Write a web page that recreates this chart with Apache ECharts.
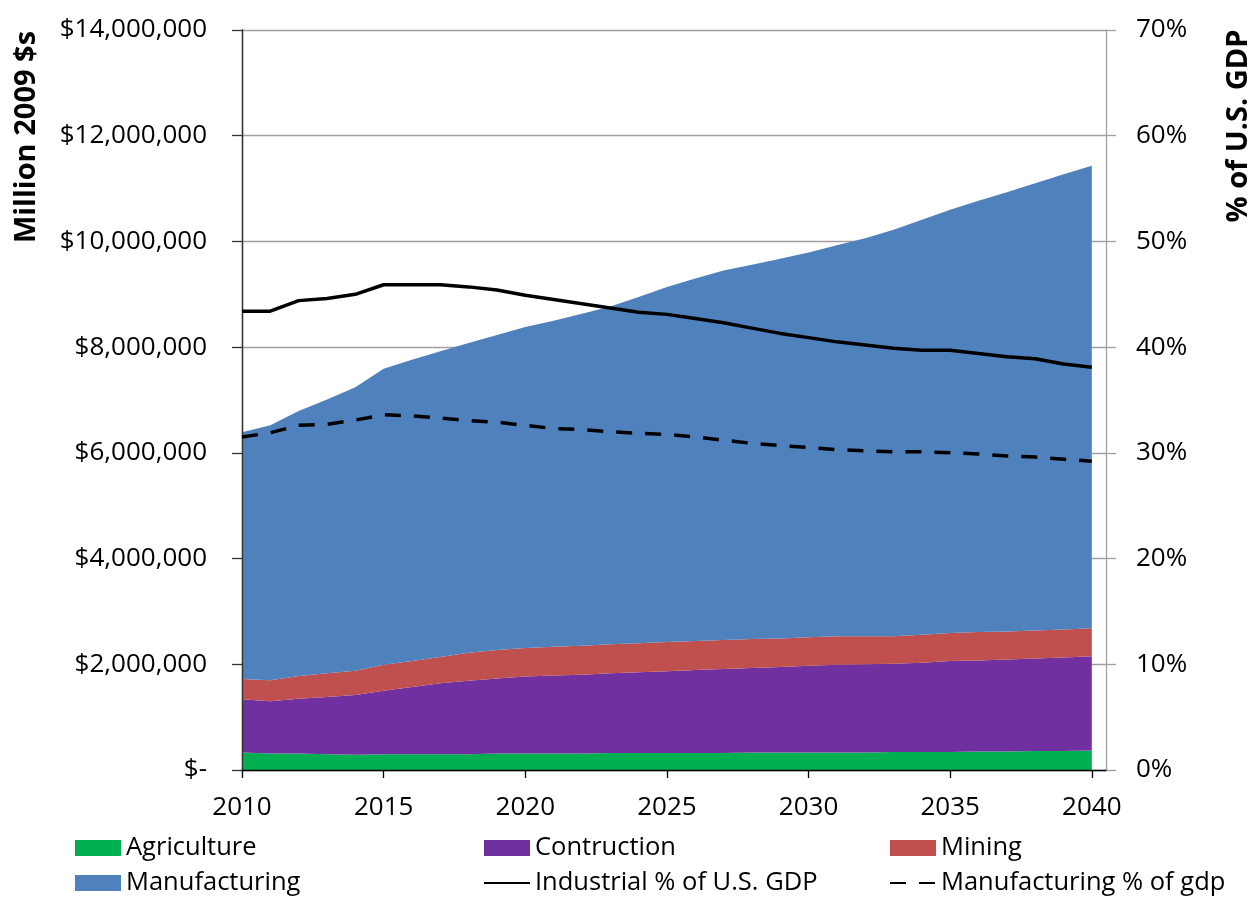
<!DOCTYPE html>
<html>
<head>
<meta charset="utf-8">
<script src="https://cdn.jsdelivr.net/npm/echarts@6/dist/echarts.min.js"></script>
<style>
  html, body { margin: 0; padding: 0; background: #fff; }
  #chart { width: 1255px; height: 898px; }
</style>
</head>
<body>
<div id="chart"></div>
<script>
// Industrial output by sector (million 2009 $) and shares of U.S. GDP, 2010-2040
const years = [2010, 2011, 2012, 2013, 2014, 2015, 2016, 2017, 2018, 2019, 2020,
               2021, 2022, 2023, 2024, 2025, 2026, 2027, 2028, 2029, 2030,
               2031, 2032, 2033, 2034, 2035, 2036, 2037, 2038, 2039, 2040];

const agriculture = [330000, 310000, 310000, 300000, 290000, 300000, 300000, 300000, 300000, 310000, 310000,
                     310000, 310000, 320000, 320000, 320000, 320000, 320000, 330000, 330000, 330000,
                     330000, 330000, 340000, 340000, 340000, 350000, 350000, 360000, 360000, 370000];

const construction = [1010000, 990000, 1040000, 1080000, 1130000, 1200000, 1270000, 1340000, 1390000, 1420000, 1460000,
                      1480000, 1490000, 1510000, 1530000, 1550000, 1570000, 1590000, 1600000, 1620000, 1640000,
                      1660000, 1670000, 1670000, 1690000, 1720000, 1720000, 1740000, 1750000, 1770000, 1780000];

const mining = [380000, 400000, 430000, 450000, 460000, 490000, 490000, 500000, 530000, 540000, 540000,
                540000, 550000, 550000, 550000, 550000, 550000, 550000, 550000, 540000, 540000,
                540000, 530000, 520000, 530000, 530000, 540000, 530000, 530000, 530000, 530000];

const manufacturing = [4670000, 4820000, 5010000, 5180000, 5360000, 5600000, 5700000, 5780000, 5860000, 5960000, 6070000,
                       6170000, 6280000, 6390000, 6550000, 6720000, 6860000, 6990000, 7080000, 7180000, 7280000,
                       7400000, 7530000, 7690000, 7850000, 8010000, 8160000, 8310000, 8460000, 8610000, 8750000];

// Shares of U.S. GDP, percent
const industrialPct = [43.4, 43.4, 44.4, 44.6, 45.0, 45.9, 45.9, 45.9, 45.7, 45.4, 44.9,
                       44.5, 44.1, 43.7, 43.3, 43.1, 42.7, 42.3, 41.8, 41.3, 40.9,
                       40.5, 40.2, 39.9, 39.7, 39.7, 39.4, 39.1, 38.9, 38.4, 38.1];

const manufacturingPct = [31.5, 31.9, 32.6, 32.7, 33.1, 33.6, 33.5, 33.3, 33.05, 32.9, 32.6,
                          32.3, 32.2, 32.0, 31.85, 31.75, 31.5, 31.2, 30.9, 30.7, 30.5,
                          30.3, 30.2, 30.1, 30.1, 30.0, 29.9, 29.7, 29.6, 29.4, 29.2];

const yearTicks = [2010, 2015, 2020, 2025, 2030, 2035, 2040];

const FONT = '"Open Sans", "Noto Sans", sans-serif';

// Series are placed on a time axis (1 January of each year) so the stack
// accumulates the sector values; a value axis in years carries the labels.
const jan1 = y => Date.UTC(y, 0, 1);
const X_MIN_YEAR = 2010;
const X_MAX_YEAR = 2040.5;
const timeMin = jan1(X_MIN_YEAR);
const timeMax = jan1(2040) + 0.5 * (jan1(2041) - jan1(2040));

const pairs = vals => years.map((y, i) => [jan1(y), vals[i]]);

function dollars(v) {
  if (v === 0) return '$-';
  return '$' + v.toLocaleString('en-US');
}

const areaSeries = (name, vals, color) => ({
  name: name,
  type: 'line',
  stack: 'sectors',
  xAxisIndex: 0,
  yAxisIndex: 0,
  data: pairs(vals),
  symbol: 'none',
  showSymbol: false,
  lineStyle: { width: 0, color: color },
  itemStyle: { color: color },
  areaStyle: { color: color, opacity: 1 },
  emphasis: { disabled: true },
  z: 2
});

const AXIS_FONT_SIZE = 26;
const legendText = { fontFamily: FONT, fontSize: 25.5, color: '#000' };
const lineLegendItem = name => ({ name: name, itemStyle: { opacity: 0 } });

const chart = echarts.init(document.getElementById('chart'), null, { renderer: 'canvas' });

chart.setOption({
  animation: false,
  backgroundColor: '#ffffff',
  textStyle: { fontFamily: FONT },
  grid: { left: 242, right: 149, top: 30, bottom: 128, containLabel: false },
  xAxis: [
    {
      type: 'time',
      position: 'top',
      min: timeMin,
      max: timeMax,
      show: false
    },
    {
      type: 'value',
      position: 'bottom',
      min: X_MIN_YEAR,
      max: X_MAX_YEAR,
      interval: 5,
      z: 4,
      axisLine: { show: true, onZero: false, lineStyle: { color: '#000', width: 1.3 } },
      axisTick: { show: true, inside: false, length: 8, lineStyle: { color: '#000', width: 1.3 } },
      splitLine: { show: false },
      axisLabel: {
        margin: 25,
        fontFamily: FONT,
        fontSize: AXIS_FONT_SIZE,
        color: '#000',
        showMaxLabel: false,
        formatter: v => (yearTicks.indexOf(v) >= 0 ? String(v) : '')
      }
    }
  ],
  yAxis: [
    {
      type: 'value',
      min: 0,
      max: 14000000,
      interval: 2000000,
      axisLine: { show: true, onZero: false, lineStyle: { color: '#333', width: 1.3 } },
      axisTick: { show: true, inside: false, length: 10, lineStyle: { color: '#333', width: 1.3 } },
      splitLine: { show: true, lineStyle: { color: '#a0a0a0', width: 1.3 } },
      axisLabel: {
        margin: 35,
        fontFamily: FONT,
        fontSize: AXIS_FONT_SIZE,
        color: '#000',
        formatter: dollars
      }
    },
    {
      type: 'value',
      min: 0,
      max: 70,
      interval: 10,
      position: 'right',
      axisLine: { show: true, onZero: false, lineStyle: { color: '#a0a0a0', width: 1.3 } },
      axisTick: { show: true, inside: false, length: 10, lineStyle: { color: '#a0a0a0', width: 1.3 } },
      splitLine: { show: false },
      axisLabel: {
        margin: 30,
        fontFamily: FONT,
        fontSize: AXIS_FONT_SIZE,
        color: '#000',
        formatter: '{value}%'
      }
    },
    {
      // left axis line drawn over the filled areas
      type: 'value',
      min: 0,
      max: 14000000,
      position: 'left',
      z: 4,
      axisLine: { show: true, onZero: false, lineStyle: { color: '#333', width: 1.3 } },
      axisTick: { show: false },
      axisLabel: { show: false },
      splitLine: { show: false }
    }
  ],
  legend: [
    {
      orient: 'vertical', left: 75, top: 835, padding: 0, itemGap: 9,
      itemWidth: 46, itemHeight: 16, textStyle: legendText, selectedMode: false,
      data: [{ name: 'Agriculture', icon: 'rect' }, { name: 'Manufacturing', icon: 'rect' }]
    },
    {
      orient: 'vertical', left: 483, top: 835, padding: 0, itemGap: 9,
      itemWidth: 46, itemHeight: 16, textStyle: legendText, selectedMode: false,
      data: [{ name: 'Contruction', icon: 'rect' }, lineLegendItem('Industrial % of U.S. GDP')]
    },
    {
      orient: 'vertical', left: 889, top: 835, padding: 0, itemGap: 9,
      itemWidth: 46, itemHeight: 16, textStyle: legendText, selectedMode: false,
      data: [{ name: 'Mining', icon: 'rect' }, lineLegendItem('Manufacturing % of gdp')]
    }
  ],
  graphic: [
    {
      type: 'text',
      x: 27, y: 137,
      rotation: Math.PI / 2,
      style: {
        text: 'Million 2009 $s',
        font: 'bold 29px ' + FONT,
        fill: '#000',
        align: 'center',
        verticalAlign: 'middle'
      }
    },
    {
      type: 'text',
      x: 1239, y: 126,
      rotation: Math.PI / 2,
      style: {
        text: '% of U.S. GDP',
        font: 'bold 29px ' + FONT,
        fill: '#000',
        align: 'center',
        verticalAlign: 'middle'
      }
    }
  ],
  series: [
    areaSeries('Agriculture', agriculture, '#00b050'),
    areaSeries('Contruction', construction, '#7030a0'),
    areaSeries('Mining', mining, '#c0504d'),
    areaSeries('Manufacturing', manufacturing, '#4f81bd'),
    {
      name: 'Industrial % of U.S. GDP',
      type: 'line',
      xAxisIndex: 0,
      yAxisIndex: 1,
      data: pairs(industrialPct),
      symbol: 'none',
      showSymbol: false,
      itemStyle: { color: '#000' },
      lineStyle: { color: '#000', width: 3.5, cap: 'butt' },
      emphasis: { disabled: true },
      z: 5
    },
    {
      name: 'Manufacturing % of gdp',
      type: 'line',
      xAxisIndex: 0,
      yAxisIndex: 1,
      data: pairs(manufacturingPct),
      symbol: 'none',
      showSymbol: false,
      itemStyle: { color: '#000' },
      lineStyle: { color: '#000', width: 3.5, type: [16, 13], cap: 'butt' },
      emphasis: { disabled: true },
      z: 5
    }
  ]
});
</script>
</body>
</html>
